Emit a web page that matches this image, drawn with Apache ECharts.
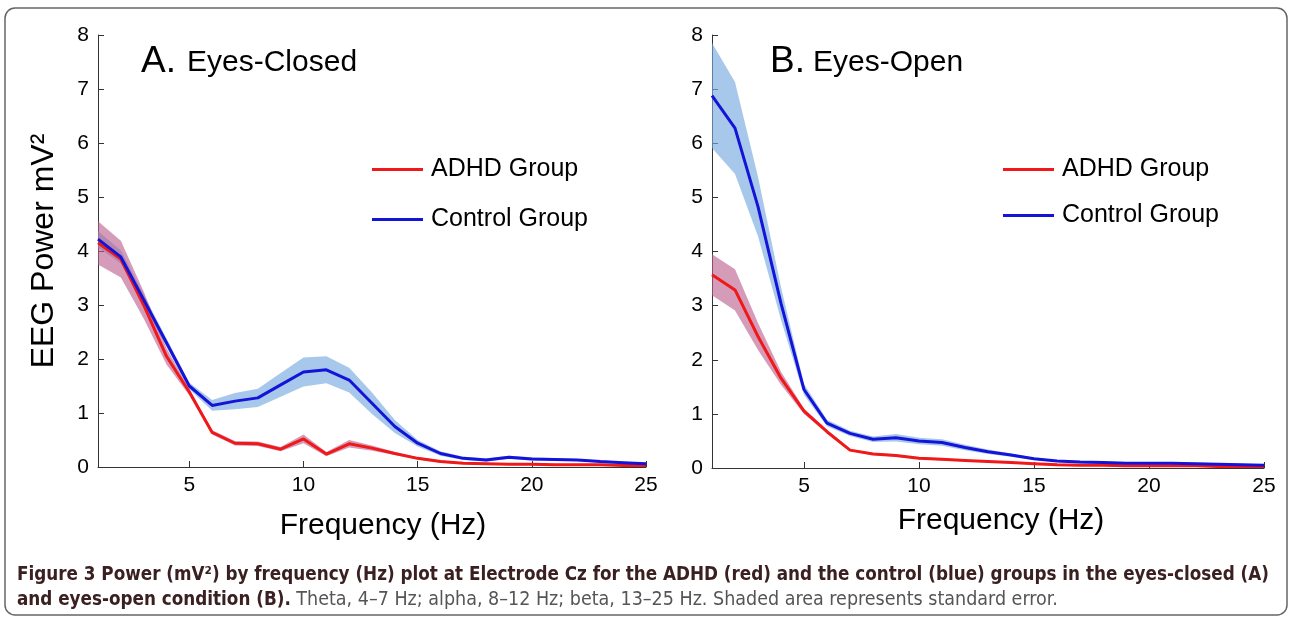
<!DOCTYPE html>
<html>
<head>
<meta charset="utf-8">
<script src="https://cdn.jsdelivr.net/npm/echarts@6/dist/echarts.min.js"></script>
<style>
  html, body { margin: 0; padding: 0; background: #fff; }
  #chart { width: 1292px; height: 621px; }
</style>
</head>
<body>
<div id="chart"></div>
<script>
// frequency bins (Hz)
var freqs = [1,2,3,4,5,6,7,8,9,10,11,12,13,14,15,16,17,18,19,20,21,22,23,24,25];
var xTicks = [5, 10, 15, 20, 25];

// A. eyes closed
var closedAdhd   = [4.15,3.85,3.00,2.05,1.39,0.64,0.44,0.43,0.33,0.52,0.24,0.43,0.35,0.25,0.16,0.10,0.07,0.06,0.05,0.05,0.04,0.04,0.04,0.03,0.03];
var closedAdhdSe = [0.40,0.34,0.25,0.15,0.06,0.04,0.04,0.04,0.04,0.08,0.04,0.07,0.05,0.03,0.02,0.02,0.01,0.01,0.01,0.01,0.01,0.01,0.01,0.01,0.01];
var closedCtrl   = [4.22,3.89,3.10,2.30,1.50,1.14,1.22,1.28,1.52,1.76,1.80,1.61,1.18,0.75,0.44,0.25,0.16,0.13,0.18,0.15,0.14,0.13,0.10,0.08,0.06];
var closedCtrlSe = [0.15,0.12,0.10,0.08,0.06,0.10,0.15,0.17,0.22,0.27,0.25,0.23,0.20,0.12,0.06,0.04,0.03,0.03,0.03,0.03,0.02,0.02,0.02,0.02,0.02];

// B. eyes open
var openAdhd   = [3.57,3.29,2.43,1.66,1.05,0.67,0.33,0.26,0.23,0.18,0.16,0.14,0.12,0.10,0.08,0.06,0.05,0.05,0.04,0.04,0.04,0.04,0.03,0.03,0.03];
var openAdhdSe = [0.38,0.38,0.25,0.12,0.05,0.03,0.02,0.02,0.02,0.02,0.02,0.01,0.01,0.01,0.01,0.01,0.01,0.01,0.01,0.01,0.01,0.01,0.01,0.01,0.01];
var openCtrl   = [6.88,6.28,4.83,3.04,1.45,0.83,0.64,0.53,0.56,0.50,0.47,0.38,0.30,0.24,0.17,0.13,0.11,0.10,0.09,0.09,0.09,0.08,0.07,0.06,0.05];
var openCtrlSe = [0.97,0.85,0.55,0.30,0.10,0.06,0.05,0.05,0.07,0.06,0.06,0.05,0.04,0.03,0.02,0.02,0.02,0.02,0.02,0.02,0.02,0.02,0.02,0.02,0.02];

var RED = '#f01818', BLUE = '#1414d8';
var RED_BAND = 'rgba(185,95,140,0.62)', BLUE_BAND = 'rgba(120,170,225,0.65)';
var FONT = 'Liberation Sans';

function pairs(vals) { return freqs.map(function (f, i) { return [f, vals[i]]; }); }

// shaded standard-error band, drawn as one polygon through the axis scales
function band(idx, vals, se, color) {
  var data = freqs.map(function (f, i) { return [f, Math.max(vals[i] - se[i], 0), vals[i] + se[i]]; });
  return {
    type: 'custom', xAxisIndex: idx, yAxisIndex: idx, silent: true, z: 2,
    encode: { x: 0, y: [1, 2] },
    data: data,
    renderItem: function (params, api) {
      if (params.dataIndexInside !== 0) return;
      var pts = [];
      data.forEach(function (d) { pts.push(api.coord([d[0], d[2]])); });
      for (var i = data.length - 1; i >= 0; i--) pts.push(api.coord([data[i][0], data[i][1]]));
      return { type: 'polygon', shape: { points: pts }, style: { fill: color } };
    }
  };
}

function line(idx, name, vals, color) {
  return { type: 'line', name: name, xAxisIndex: idx, yAxisIndex: idx, data: pairs(vals),
    symbol: 'none', color: color, lineStyle: { color: color, width: 3 }, z: 5 };
}

function xAxis(idx) {
  return { type: 'value', gridIndex: idx, min: 1, max: 25,
    splitLine: { show: false },
    axisLine: { lineStyle: { color: '#333', width: 1 } },
    axisTick: { inside: true, length: 6, lineStyle: { color: '#333' }, customValues: xTicks },
    axisLabel: { color: '#000', fontSize: 21, fontFamily: FONT, margin: 8, customValues: xTicks } };
}

function yAxis(idx) {
  return { type: 'value', gridIndex: idx, min: 0, max: 8, interval: 1,
    splitLine: { show: false },
    axisLine: { show: true, lineStyle: { color: '#333', width: 1 } },
    axisTick: { show: true, inside: true, length: 6, lineStyle: { color: '#333' } },
    axisLabel: { color: '#000', fontSize: 21, fontFamily: FONT, margin: 9 } };
}

function legend(left, top, gap) {
  return { data: ['ADHD Group', 'Control Group'], orient: 'vertical', left: left, top: top,
    itemGap: gap, itemWidth: 51, itemHeight: 3, icon: 'rect', selectedMode: false,
    textStyle: { fontSize: 25, fontFamily: FONT, color: '#000', padding: [0, 0, 0, 3] } };
}

var chart = echarts.init(document.getElementById('chart'));
chart.setOption({
  animation: false,
  grid: [
    { left: 98, top: 35, width: 548, height: 432 },
    { left: 712, top: 35, width: 552, height: 433 }
  ],
  xAxis: [xAxis(0), xAxis(1)],
  yAxis: [yAxis(0), yAxis(1)],
  title: [
    { text: 'A.', left: 136, top: 38, textStyle: { fontSize: 37, fontWeight: 'normal', fontFamily: FONT, color: '#000' } },
    { text: 'Eyes-Closed', left: 182, top: 43, textStyle: { fontSize: 30, fontWeight: 'normal', fontFamily: FONT, color: '#000' } },
    { text: 'B.', left: 765, top: 38, textStyle: { fontSize: 37, fontWeight: 'normal', fontFamily: FONT, color: '#000' } },
    { text: 'Eyes-Open', left: 808, top: 43, textStyle: { fontSize: 30, fontWeight: 'normal', fontFamily: FONT, color: '#000' } }
  ],
  legend: [legend(367, 152, 25), legend(998, 152, 21)],
  series: [
    band(0, closedCtrl, closedCtrlSe, BLUE_BAND),
    band(0, closedAdhd, closedAdhdSe, RED_BAND),
    line(0, 'ADHD Group', closedAdhd, RED),
    line(0, 'Control Group', closedCtrl, BLUE),
    band(1, openCtrl, openCtrlSe, BLUE_BAND),
    band(1, openAdhd, openAdhdSe, RED_BAND),
    line(1, 'ADHD Group', openAdhd, RED),
    line(1, 'Control Group', openCtrl, BLUE)
  ],
  graphic: [
    { type: 'rect', shape: { x: 5, y: 8, width: 1282, height: 607, r: 10 },
      style: { fill: 'none', stroke: '#666', lineWidth: 1.5 }, silent: true },
    { type: 'text', x: 44, y: 251, rotation: Math.PI / 2,
      style: { text: 'EEG Power mV\u00b2', font: '32px "Liberation Sans"', fill: '#000', align: 'center', verticalAlign: 'middle' } },
    { type: 'text', x: 383, y: 526,
      style: { text: 'Frequency (Hz)', font: '30px "Liberation Sans"', fill: '#000', align: 'center', verticalAlign: 'middle' } },
    { type: 'text', x: 1001, y: 521,
      style: { text: 'Frequency (Hz)', font: '30px "Liberation Sans"', fill: '#000', align: 'center', verticalAlign: 'middle' } },
    { type: 'text', x: 17, y: 566,
      style: { text: '{b|Figure 3 Power (mV\u00b2) by frequency (Hz) plot at Electrode Cz for the ADHD (red) and the control (blue) groups in the eyes-closed (A)}',
        rich: { b: { font: 'bold 18.7px "DejaVu Sans Condensed"', fill: '#3a2020' } } } },
    { type: 'text', x: 17, y: 590,
      style: { text: '{b|and eyes-open condition (B).}{r| Theta, 4\u20137 Hz; alpha, 8\u201312 Hz; beta, 13\u201325 Hz. Shaded area represents standard error.}',
        rich: { b: { font: 'bold 18.7px "DejaVu Sans Condensed"', fill: '#3a2020' },
                r: { font: '19.5px "DejaVu Sans Condensed"', fill: '#555' } } } }
  ]
});
</script>
</body>
</html>
